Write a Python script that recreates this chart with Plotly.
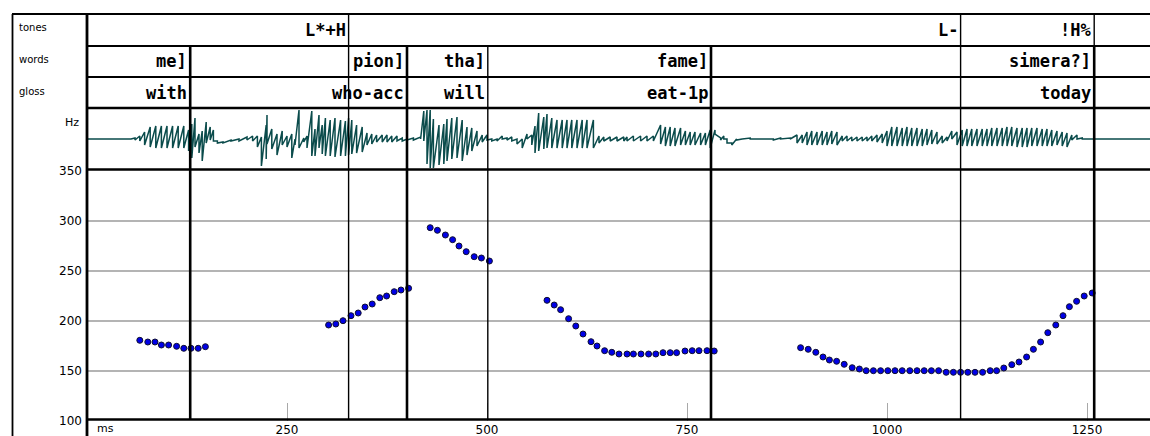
import plotly.graph_objects as go

W, H = 1150, 436

# ---------------- data ----------------
# F0 track (ms, Hz), one list per voiced stretch
f0_ms_1 = [66, 76, 85, 93, 102, 112, 121, 130, 139, 148]
f0_hz_1 = [180.7, 179, 179, 176, 176, 174.7, 172.7, 172.7, 172.7, 174.3]

f0_ms_2 = [302, 311, 320, 330, 339, 347.5, 356.5, 366, 374.5, 384, 392.5, 402]
f0_hz_2 = [196, 197, 200.3, 205.3, 208, 214, 217, 223.3, 225, 229.3, 231, 232.7]

f0_ms_3 = [429, 438, 448, 457, 465, 474, 484, 493, 503]
f0_hz_3 = [293.3, 290.7, 286, 281.3, 275, 269.3, 264.3, 263, 260]

f0_ms_4 = [575, 584, 592, 602, 611, 620, 630, 637.5, 647, 656, 665, 675, 683,
           692.5, 702, 711, 720, 729, 737, 747.5, 756.5, 765, 775, 784]
f0_hz_4 = [220.7, 216, 211.3, 202.3, 195, 187, 179.3, 175, 170.3, 168.7, 167, 167, 167,
           167, 167, 167, 168.3, 168.3, 168.3, 170, 170.3, 170.3, 170.3, 170]

f0_ms_5 = [892, 901.5, 911, 920, 928, 937, 946.5, 956.5, 965.5, 974, 983, 992, 1001,
           1010, 1019, 1028.5, 1037.5, 1046.5, 1055.5, 1064.5, 1074, 1083, 1092, 1101,
           1110, 1119.5, 1129, 1137, 1146, 1156, 1165, 1174.5, 1183, 1192, 1201, 1211,
           1220, 1228, 1237, 1246.5, 1256.5]
f0_hz_5 = [173.3, 171.7, 168.7, 164, 161, 159.7, 156.7, 153.3, 152, 150.3, 150.3, 150.3, 150.3,
           150.3, 150.3, 150.3, 150.3, 150.3, 150.3, 150.3, 148.7, 148.7, 148.7, 148.7,
           148.7, 148.7, 150.3, 150.3, 153, 156.3, 159, 164, 171.7, 179, 188.3, 196,
           205.3, 214.3, 219.7, 225, 228]

# waveform envelope (ms, upper, lower amplitude)
wave_ms = [0, 55, 60, 66, 72, 79, 86, 93, 100, 107, 114, 121, 127, 131, 135, 140, 144, 149,
           154, 158, 163, 170, 180, 190, 200, 207, 213, 218, 224,
           225, 231, 237.5, 244, 250, 256, 260, 265, 271, 275, 281, 285, 290, 294, 298, 304,
           310, 317, 323, 327, 331, 337, 344, 350, 356, 362, 369, 375, 381, 387.5, 394, 400,
           408, 417, 421, 425, 429, 433, 440, 446,
           450, 456, 462.5, 469, 475, 481, 487.5, 494, 500, 506, 512.5, 519, 525, 531, 537.5,
           544, 550, 556, 560, 564.6, 571, 575, 581, 587.5, 594, 600, 606, 612.5, 619, 625,
           633, 640, 646, 654, 662.5, 671,
           675, 683, 692, 700, 708, 717, 723, 729, 735, 742, 748, 754, 760, 767, 773, 779,
           785, 792, 796, 800, 806, 812, 819, 829, 842, 858, 867, 879, 887.5, 894,
           900, 906, 912.5, 919, 925, 931, 937.5, 944, 950, 956, 962.5, 969, 975, 981, 987.5,
           994, 1000, 1006, 1012.5, 1019, 1025, 1031, 1037.5, 1044, 1050, 1056, 1062.5, 1069,
           1075, 1081, 1087.5, 1094, 1100, 1106, 1112.5, 1119,
           1125, 1131, 1137.5, 1144, 1150, 1156, 1162.5, 1169, 1175, 1181, 1187.5, 1194, 1200,
           1206, 1212.5, 1219, 1225, 1231, 1237.5, 1244, 1250, 1329]
wave_hi = [0, 0, 1, 3, 7, 12, 13, 13, 13, 13, 13, 13, 9, 15, 21, 5, 8, 17,
           12, 9, -2, -3, -1, 0, 2, 3, 3, 2, 14,
           24, 10, 5, 8, 3, 5, 0, 29, 1, 3, 28, 10, 24, 14, 21, 19,
           21, 19, 18, 21, 19, 14, 12, 6, 5, 4, 4, 4, 3, 3, 1, 0,
           1, 2, 28, 29, 29, 20, 14, 15,
           20, 21, 22, 19, 12, 11, 8, 4, 4, 0, 0, 3, 1, 2, 0,
           0, 5, 4, 13, 26, 22, 25, 21, 19, 19, 19, 19, 19, 19, 19,
           19, 3, 2, 2, 2, 2,
           2, 3, 3, 3, 3, 14, 12, 12, 11, 11, 8, 7, 7, 6, 6, 9,
           9, 1, 3, 0, -4, 0, 0, 1, 0, 0, 1, 1, 4, 4,
           7, 8, 7, 8, 7, 8, 7, 3, 3, 2, 2, 2, 2, 3, 4,
           5, 8, 12, 12, 11, 12, 11, 11, 10, 10, 9, 7, 3,
           2, 8, 7, 9, 10, 10, 10, 10,
           10, 11, 11, 11, 12, 12, 11, 11, 11, 11, 11, 10, 10,
           9, 8, 7, 6, 4, 4, 1, 0, 0]
wave_lo = [0, 0, -1, -2, -6, -8, -9, -9, -9, -9, -9, -9, -12, -19, -8, -14, -22, -4,
           -1, -2, -4, -4, -2, -2, -1, -2, -8, -27, -20,
           -5, -10, -16, -6, -8, -19, -6, -9, -3, -9, -17, -17, -9, -15, -17, -17,
           -18, -17, -17, -16, -15, -14, -13, -6, -5, -3, -3, -3, -3, -2, -2, -1,
           -1, 0, -2, -25, -29, -29, -26, -25,
           -22, -20, -19, -22, -16, -12, -7, -3, -1, -2, -2, 0, -1, -2, -5,
           -9, 0, -6, -14, -12, -10, -9, -9, -9, -9, -9, -9, -9, -9, -9,
           -9, -4, -2, -2, -2, -2,
           -2, -2, -2, -2, -2, -5, -7, -7, -7, -6, -6, -6, -6, -6, -6, -9,
           5, -1, 0, -4, -6, -1, 0, 0, 0, -1, 0, 0, -4, -4,
           -6, -6, -6, -6, -6, -5, -6, -2, -2, -2, -2, -2, -2, -2, -3,
           -4, -7, -7, -7, -7, -7, -7, -7, -7, -6, -5, -5, -4,
           -2, 0, -6, -7, -7, -7, -7, -7,
           -7, -7, -7, -7, -7, -7, -8, -8, -8, -7, -7, -7, -7,
           -7, -6, -7, -8, -1, 0, 0, 0, 0]

# annotation tiers: interval end times (ms) and labels
tone_end_ms = [327, 1092, 1259]
tone_labels = ["L*+H", "L-", "!H%"]
word_end_ms = [129, 400, 501, 780, 1259]
word_labels = ["me]", "pion]", "tha]", "fame]", "simera?]"]
gloss_labels = ["with", "who-acc", "will", "eat-1p", "today"]

tier_names = ["tones", "words", "gloss"]
y_ticks = [100, 150, 200, 250, 300, 350]
x_ticks = [250, 500, 750, 1000, 1250]

# ---------------- style / layout ----------------
X0 = 87          # px: left edge of the time axis
PX_PER_MS = 0.8
X_MAX = (W - X0) / PX_PER_MS
word_line_w = [2.6, 2.6, 1.4, 2.6, 2.6]

def px(p):
    return p / W

def py(p):
    return 1 - p / H

WAVE_COL = "#0a4b4b"
MONO = "DejaVu Sans Mono"
SANS = "DejaVu Sans"

fig = go.Figure()

# waveform as a pulse polyline
wx, wy = [], []
for t, hi, lo in zip(wave_ms, wave_hi, wave_lo):
    wx += [t, t]
    wy += [hi, lo]
fig.add_trace(go.Scatter(x=wx, y=wy, mode="lines", xaxis="x", yaxis="y2",
                         line=dict(color=WAVE_COL, width=1.5), hoverinfo="skip",
                         showlegend=False))

# pitch dots
for ms, hz in [(f0_ms_1, f0_hz_1), (f0_ms_2, f0_hz_2), (f0_ms_3, f0_hz_3),
               (f0_ms_4, f0_hz_4), (f0_ms_5, f0_hz_5)]:
    fig.add_trace(go.Scatter(x=ms, y=hz, mode="markers", xaxis="x", yaxis="y",
                             marker=dict(size=6, color="#0000e6",
                                         line=dict(color="#101030", width=1)),
                             showlegend=False))

shapes = []
def hline(y, x0, x1, w):
    shapes.append(dict(type="line", xref="paper", yref="paper", x0=px(x0), x1=px(x1),
                       y0=py(y), y1=py(y), line=dict(color="black", width=w)))

def vline_px(x, y0, y1, w):
    shapes.append(dict(type="line", xref="paper", yref="paper", x0=px(x), x1=px(x),
                       y0=py(y0), y1=py(y1), line=dict(color="black", width=w)))

# frame
hline(14, 12, W, 1.8)
hline(46, X0, W, 1.8)
hline(77, X0, W, 1.8)
hline(108, X0, W, 2.6)
hline(169.5, X0, W, 2.6)
hline(419.5, X0, W, 2.6)
vline_px(12.5, 14, H, 1.8)
vline_px(X0, 14, H, 2.8)

# tier boundaries
for t in tone_end_ms:
    shapes.append(dict(type="line", xref="x", yref="paper", x0=t, x1=t,
                       y0=py(14), y1=py(419), line=dict(color="black", width=1.4)))
for t, w in zip(word_end_ms, word_line_w):
    shapes.append(dict(type="line", xref="x", yref="paper", x0=t, x1=t,
                       y0=py(46), y1=py(419), line=dict(color="black", width=w)))

annotations = []
tier_font = dict(family=MONO, size=17, color="black", weight="bold")
for t, lab in zip(tone_end_ms, tone_labels):
    annotations.append(dict(x=t, y=py(30), xref="x", yref="paper", text=lab, showarrow=False,
                            xanchor="right", yanchor="middle", xshift=-1, font=tier_font))
for t, lab in zip(word_end_ms, word_labels):
    annotations.append(dict(x=t, y=py(61.5), xref="x", yref="paper", text=lab, showarrow=False,
                            xanchor="right", yanchor="middle", xshift=-1, font=tier_font))
for t, lab in zip(word_end_ms, gloss_labels):
    annotations.append(dict(x=t, y=py(92.5), xref="x", yref="paper", text=lab, showarrow=False,
                            xanchor="right", yanchor="middle", xshift=-1, font=tier_font))

small_font = dict(family=SANS, size=10, color="black")
for name, yy in zip(tier_names, [27, 59, 91]):
    annotations.append(dict(x=px(17), y=py(yy), xref="paper", yref="paper", text=name,
                            showarrow=False, xanchor="left", yanchor="middle", font=small_font))
annotations.append(dict(x=px(81), y=py(122), xref="paper", yref="paper", text="Hz",
                        showarrow=False, xanchor="right", yanchor="middle",
                        font=dict(family=SANS, size=11, color="black")))
annotations.append(dict(x=px(95), y=py(428), xref="paper", yref="paper", text="ms",
                        showarrow=False, xanchor="left", yanchor="middle",
                        font=dict(family=SANS, size=11, color="black")))

fig.update_layout(
    width=W, height=H,
    margin=dict(l=0, r=0, t=0, b=0),
    paper_bgcolor="white", plot_bgcolor="white",
    showlegend=False,
    shapes=shapes, annotations=annotations,
    xaxis=dict(domain=[px(X0), 1], range=[0, X_MAX], anchor="y",
               showgrid=False, zeroline=False, showline=False,
               tickvals=x_ticks, ticktext=[str(v) for v in x_ticks],
               ticks="inside", ticklen=18, tickwidth=1, tickcolor="#a8a8a8",
               tickfont=dict(family=SANS, size=12, color="black"), automargin=False,
               fixedrange=True),
    yaxis=dict(domain=[py(421), py(171)], range=[100, 350], anchor="x",
               showgrid=True, gridcolor="#b4b4b4", gridwidth=1.5,
               zeroline=False, showline=False, ticks="",
               tickvals=y_ticks, ticktext=[str(v) for v in y_ticks],
               tickfont=dict(family=SANS, size=12, color="black"),
               ticklabelstandoff=4, automargin=False, fixedrange=True),
    yaxis2=dict(domain=[py(169), py(109)], range=[-30, 30], anchor="x",
                visible=False, fixedrange=True),
)

fig.write_html("out.html", config={"displayModeBar": False},
               post_script="document.body.style.margin='0';document.body.style.overflow='hidden';")
